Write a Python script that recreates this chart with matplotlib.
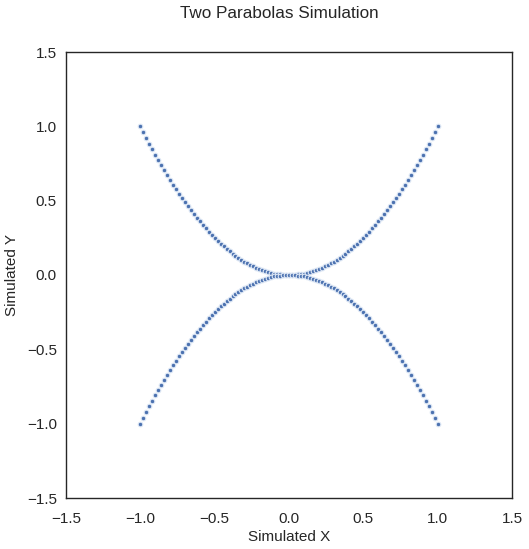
import matplotlib
matplotlib.use("Agg")
import matplotlib.pyplot as plt
import seaborn as sns

sns.set_theme(style="white")
plt.rcParams['font.family'] = ['Liberation Sans', 'DejaVu Sans']

x_vals = [-1.00, -0.98, -0.96, -0.94, -0.92, -0.90, -0.88, -0.86, -0.84, -0.82,
          -0.80, -0.78, -0.76, -0.74, -0.72, -0.70, -0.68, -0.66, -0.64, -0.62,
          -0.60, -0.58, -0.56, -0.54, -0.52, -0.50, -0.48, -0.46, -0.44, -0.42,
          -0.40, -0.38, -0.36, -0.34, -0.32, -0.30, -0.28, -0.26, -0.24, -0.22,
          -0.20, -0.18, -0.16, -0.14, -0.12, -0.10, -0.08, -0.06, -0.04, -0.02,
          0.00,
          0.02, 0.04, 0.06, 0.08, 0.10, 0.12, 0.14, 0.16, 0.18, 0.20,
          0.22, 0.24, 0.26, 0.28, 0.30, 0.32, 0.34, 0.36, 0.38, 0.40,
          0.42, 0.44, 0.46, 0.48, 0.50, 0.52, 0.54, 0.56, 0.58, 0.60,
          0.62, 0.64, 0.66, 0.68, 0.70, 0.72, 0.74, 0.76, 0.78, 0.80,
          0.82, 0.84, 0.86, 0.88, 0.90, 0.92, 0.94, 0.96, 0.98, 1.00]

y_upper = [1.0000, 0.9604, 0.9216, 0.8836, 0.8464, 0.8100, 0.7744, 0.7396, 0.7056, 0.6724,
           0.6400, 0.6084, 0.5776, 0.5476, 0.5184, 0.4900, 0.4624, 0.4356, 0.4096, 0.3844,
           0.3600, 0.3364, 0.3136, 0.2916, 0.2704, 0.2500, 0.2304, 0.2116, 0.1936, 0.1764,
           0.1600, 0.1444, 0.1296, 0.1156, 0.1024, 0.0900, 0.0784, 0.0676, 0.0576, 0.0484,
           0.0400, 0.0324, 0.0256, 0.0196, 0.0144, 0.0100, 0.0064, 0.0036, 0.0016, 0.0004,
           0.0000,
           0.0004, 0.0016, 0.0036, 0.0064, 0.0100, 0.0144, 0.0196, 0.0256, 0.0324, 0.0400,
           0.0484, 0.0576, 0.0676, 0.0784, 0.0900, 0.1024, 0.1156, 0.1296, 0.1444, 0.1600,
           0.1764, 0.1936, 0.2116, 0.2304, 0.2500, 0.2704, 0.2916, 0.3136, 0.3364, 0.3600,
           0.3844, 0.4096, 0.4356, 0.4624, 0.4900, 0.5184, 0.5476, 0.5776, 0.6084, 0.6400,
           0.6724, 0.7056, 0.7396, 0.7744, 0.8100, 0.8464, 0.8836, 0.9216, 0.9604, 1.0000]

y_lower = [-1.0000, -0.9604, -0.9216, -0.8836, -0.8464, -0.8100, -0.7744, -0.7396, -0.7056, -0.6724,
           -0.6400, -0.6084, -0.5776, -0.5476, -0.5184, -0.4900, -0.4624, -0.4356, -0.4096, -0.3844,
           -0.3600, -0.3364, -0.3136, -0.2916, -0.2704, -0.2500, -0.2304, -0.2116, -0.1936, -0.1764,
           -0.1600, -0.1444, -0.1296, -0.1156, -0.1024, -0.0900, -0.0784, -0.0676, -0.0576, -0.0484,
           -0.0400, -0.0324, -0.0256, -0.0196, -0.0144, -0.0100, -0.0064, -0.0036, -0.0016, -0.0004,
           0.0000,
           -0.0004, -0.0016, -0.0036, -0.0064, -0.0100, -0.0144, -0.0196, -0.0256, -0.0324, -0.0400,
           -0.0484, -0.0576, -0.0676, -0.0784, -0.0900, -0.1024, -0.1156, -0.1296, -0.1444, -0.1600,
           -0.1764, -0.1936, -0.2116, -0.2304, -0.2500, -0.2704, -0.2916, -0.3136, -0.3364, -0.3600,
           -0.3844, -0.4096, -0.4356, -0.4624, -0.4900, -0.5184, -0.5476, -0.5776, -0.6084, -0.6400,
           -0.6724, -0.7056, -0.7396, -0.7744, -0.8100, -0.8464, -0.8836, -0.9216, -0.9604, -1.0000]

ticks = [-1.5, -1.0, -0.5, 0.0, 0.5, 1.0, 1.5]
tick_labels = ["\u22121.5", "\u22121.0", "\u22120.5", "0.0", "0.5", "1.0", "1.5"]

fig = plt.figure(figsize=(5.29, 5.49), dpi=100)
ax = fig.add_axes([66/529, 1 - 498/549, 446/529, 446/549])

for yv in (y_upper, y_lower):
    ax.scatter(x_vals, yv, s=11, color="#4c72b0", edgecolor="#dce6f4", linewidth=0.8)

ax.set_xlim(-1.5, 1.5)
ax.set_ylim(-1.5, 1.5)
ax.set_xticks(ticks)
ax.set_xticklabels(tick_labels)
ax.set_yticks(ticks)
ax.set_yticklabels(tick_labels)
ax.tick_params(labelsize=11, colors="#262626", length=0)
ax.tick_params(axis="x", pad=10)
ax.tick_params(axis="y", pad=6.5)
for sp in ax.spines.values():
    sp.set_color("#262626")
    sp.set_linewidth(1.0)
ax.set_xlabel("Simulated X", fontsize=11, color="#262626", labelpad=3)
ax.set_ylabel("Simulated Y", fontsize=11, color="#262626", labelpad=6)
fig.text(279/529, 1 - 14/549, "Two Parabolas Simulation", fontsize=12.3,
         color="#262626", ha="center", va="center")

fig.savefig("out.png", dpi=100)
